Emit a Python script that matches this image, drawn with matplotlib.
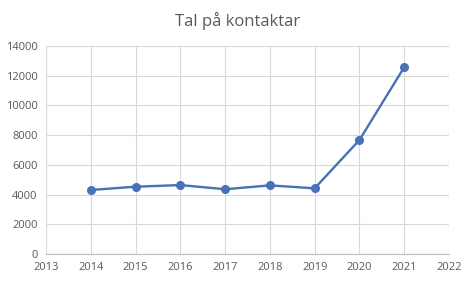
import matplotlib.pyplot as plt

# ----- Data -----
years = [2014, 2015, 2016, 2017, 2018, 2019, 2020, 2021]
contacts = [4310, 4530, 4640, 4360, 4620, 4420, 7670, 12570]

x_ticks = list(range(2013, 2023))
y_ticks = list(range(0, 14001, 2000))

plt.rcParams['font.family'] = ['Open Sans', 'DejaVu Sans']

fig = plt.figure(figsize=(4.76, 2.84), dpi=100)
ax = fig.add_axes([0.0966, 0.1056, 0.8466, 0.7324])

ax.plot(years, contacts, color='#4771B8', linewidth=1.7,
        marker='o', markersize=5.5, zorder=3)

ax.set_xlim(2013, 2022)
ax.set_ylim(0, 14000)
ax.set_xticks(x_ticks)
ax.set_yticks(y_ticks)
ax.grid(True, color='#D9D9D9', linewidth=0.8)
ax.set_axisbelow(True)

for side in ['top', 'right', 'left']:
    ax.spines[side].set_visible(False)
ax.spines['bottom'].set_color('#BFBFBF')
ax.tick_params(length=0, labelsize=8, labelcolor='#595959', pad=6)

fig.text(0.5, 0.925, "Tal på kontaktar", ha='center', va='center',
         fontsize=12, color='#595959')

fig.savefig("out.png", dpi=100)
